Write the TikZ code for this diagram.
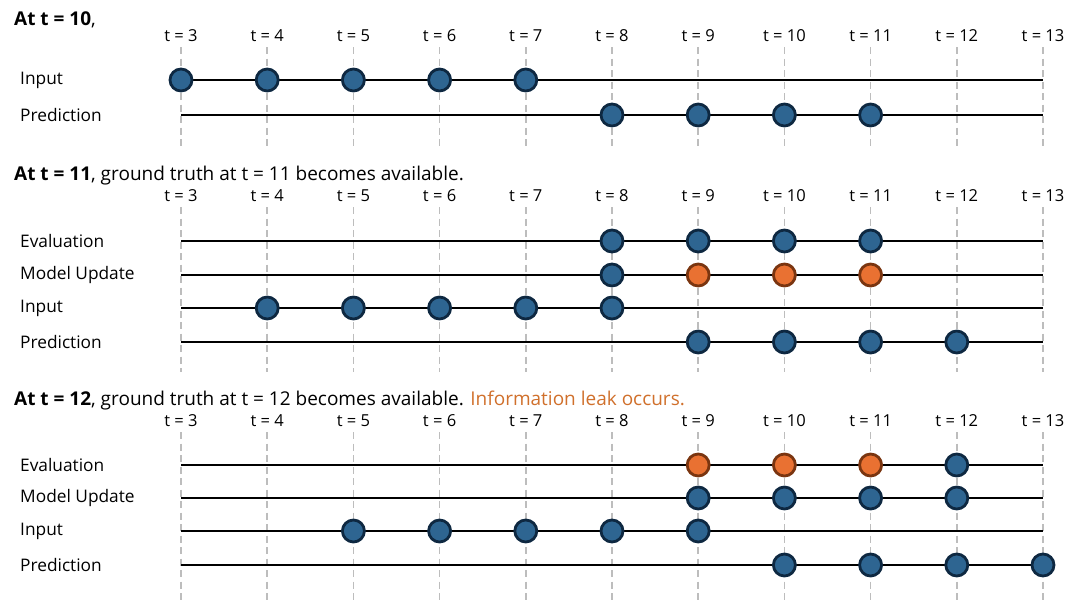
\documentclass[tikz,border=0pt]{standalone}
\usepackage{fontspec}
\setmainfont{Open Sans}
\usetikzlibrary{positioning}
\definecolor{dotblue}{HTML}{2E6591}
\definecolor{dotedge}{HTML}{0E2841}
\definecolor{leakorange}{HTML}{E97132}
\definecolor{leakedge}{HTML}{7A3510}
\definecolor{leaktext}{HTML}{D0702C}
\definecolor{tickgray}{HTML}{BDBDBD}

\begin{document}
\begin{tikzpicture}[x=1pt, y=-1pt,
    dot/.style={circle, draw=dotedge, fill=dotblue, line width=2.8pt, minimum size=22pt, inner sep=0pt},
    leak/.style={dot, draw=leakedge, fill=leakorange},
    row/.style={line width=1.8pt},
    tick/.style={draw=tickgray, line width=1.6pt, dash pattern=on 7pt off 4.5pt},
    rowlabel/.style={anchor=west, inner sep=0pt, font=\fontsize{17.3}{20}\selectfont},
    tlabel/.style={inner sep=0pt, font=\fontsize{16.5}{19}\selectfont},
    title/.style={anchor=west, inner sep=0pt, font=\fontsize{19}{22}\selectfont}]
            \useasboundingbox (0,0) rectangle (1080,613);
            % Columns t = 3 ... 13
            \foreach \t in {3,...,13}
                \coordinate (c\t) at ({181+86.2*(\t-3)},0);
            \foreach \s/\ly/\ty/\by in {1/36/47/150, 2/196/207/372, 3/421/432/601}{
                \foreach \t in {3,...,13}{
                    \node[tlabel] (t\s-\t) at (c\t |- 0,\ly) {t = \t};
                    \coordinate (top\s-\t) at (c\t |- 0,\ty);
                    \coordinate (bot\s-\t) at (c\t |- 0,\by);
                    \draw[tick] (top\s-\t) -- (bot\s-\t);
                }
            }
            % At t = 10
            \node[title] (head1) at (14,20) {\textbf{At t = 10},};
            \node[rowlabel] (in1lab) at (20,80) {Input};
            \node[rowlabel] (pr1lab) at (20,115) {Prediction};
            \coordinate (in1s) at (c3 |- 0,80);  \coordinate (in1e) at (c13 |- 0,80);
            \coordinate (pr1s) at (c3 |- 0,115); \coordinate (pr1e) at (c13 |- 0,115);
            \draw[row] (in1s) -- (in1e);
            \draw[row] (pr1s) -- (pr1e);
            \node[dot] (in1-3) at (c3 |- in1s) {};
            \node[dot] (in1-4) at (c4 |- in1s) {};
            \node[dot] (in1-5) at (c5 |- in1s) {};
            \node[dot] (in1-6) at (c6 |- in1s) {};
            \node[dot] (in1-7) at (c7 |- in1s) {};
            \node[dot] (pr1-8) at (c8 |- pr1s) {};
            \node[dot] (pr1-9) at (c9 |- pr1s) {};
            \node[dot] (pr1-10) at (c10 |- pr1s) {};
            \node[dot] (pr1-11) at (c11 |- pr1s) {};
            % At t = 11
            \node[title] (head2) at (14,176) {\textbf{At t = 11}, ground truth at t = 11 becomes available.};
            \node[rowlabel] (ev2lab) at (20,241) {Evaluation};
            \node[rowlabel] (mu2lab) at (20,275) {Model Update};
            \node[rowlabel] (in2lab) at (20,308) {Input};
            \node[rowlabel] (pr2lab) at (20,342) {Prediction};
            \coordinate (ev2s) at (c3 |- 0,241); \coordinate (ev2e) at (c13 |- 0,241);
            \coordinate (mu2s) at (c3 |- 0,275); \coordinate (mu2e) at (c13 |- 0,275);
            \coordinate (in2s) at (c3 |- 0,308); \coordinate (in2e) at (c13 |- 0,308);
            \coordinate (pr2s) at (c3 |- 0,342); \coordinate (pr2e) at (c13 |- 0,342);
            \draw[row] (ev2s) -- (ev2e);
            \draw[row] (mu2s) -- (mu2e);
            \draw[row] (in2s) -- (in2e);
            \draw[row] (pr2s) -- (pr2e);
            \node[dot] (ev2-8) at (c8 |- ev2s) {};
            \node[dot] (ev2-9) at (c9 |- ev2s) {};
            \node[dot] (ev2-10) at (c10 |- ev2s) {};
            \node[dot] (ev2-11) at (c11 |- ev2s) {};
            \node[dot] (mu2-8) at (c8 |- mu2s) {};
            \node[leak] (mu2-9) at (c9 |- mu2s) {};
            \node[leak] (mu2-10) at (c10 |- mu2s) {};
            \node[leak] (mu2-11) at (c11 |- mu2s) {};
            \node[dot] (in2-4) at (c4 |- in2s) {};
            \node[dot] (in2-5) at (c5 |- in2s) {};
            \node[dot] (in2-6) at (c6 |- in2s) {};
            \node[dot] (in2-7) at (c7 |- in2s) {};
            \node[dot] (in2-8) at (c8 |- in2s) {};
            \node[dot] (pr2-9) at (c9 |- pr2s) {};
            \node[dot] (pr2-10) at (c10 |- pr2s) {};
            \node[dot] (pr2-11) at (c11 |- pr2s) {};
            \node[dot] (pr2-12) at (c12 |- pr2s) {};
            % At t = 12
            \node[title] (head3) at (14,401) {\textbf{At t = 12}, ground truth at t = 12 becomes available. \textcolor{leaktext}{Information leak occurs.}};
            \node[rowlabel] (ev3lab) at (20,465) {Evaluation};
            \node[rowlabel] (mu3lab) at (20,498) {Model Update};
            \node[rowlabel] (in3lab) at (20,531) {Input};
            \node[rowlabel] (pr3lab) at (20,565) {Prediction};
            \coordinate (ev3s) at (c3 |- 0,465); \coordinate (ev3e) at (c13 |- 0,465);
            \coordinate (mu3s) at (c3 |- 0,498); \coordinate (mu3e) at (c13 |- 0,498);
            \coordinate (in3s) at (c3 |- 0,531); \coordinate (in3e) at (c13 |- 0,531);
            \coordinate (pr3s) at (c3 |- 0,565); \coordinate (pr3e) at (c13 |- 0,565);
            \draw[row] (ev3s) -- (ev3e);
            \draw[row] (mu3s) -- (mu3e);
            \draw[row] (in3s) -- (in3e);
            \draw[row] (pr3s) -- (pr3e);
            \node[leak] (ev3-9) at (c9 |- ev3s) {};
            \node[leak] (ev3-10) at (c10 |- ev3s) {};
            \node[leak] (ev3-11) at (c11 |- ev3s) {};
            \node[dot] (ev3-12) at (c12 |- ev3s) {};
            \node[dot] (mu3-9) at (c9 |- mu3s) {};
            \node[dot] (mu3-10) at (c10 |- mu3s) {};
            \node[dot] (mu3-11) at (c11 |- mu3s) {};
            \node[dot] (mu3-12) at (c12 |- mu3s) {};
            \node[dot] (in3-5) at (c5 |- in3s) {};
            \node[dot] (in3-6) at (c6 |- in3s) {};
            \node[dot] (in3-7) at (c7 |- in3s) {};
            \node[dot] (in3-8) at (c8 |- in3s) {};
            \node[dot] (in3-9) at (c9 |- in3s) {};
            \node[dot] (pr3-10) at (c10 |- pr3s) {};
            \node[dot] (pr3-11) at (c11 |- pr3s) {};
            \node[dot] (pr3-12) at (c12 |- pr3s) {};
            \node[dot] (pr3-13) at (c13 |- pr3s) {};
        \end{tikzpicture}
\end{document}
